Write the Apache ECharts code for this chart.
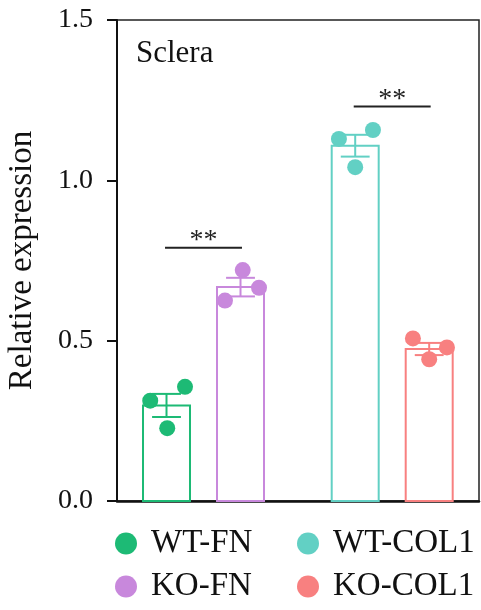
<!DOCTYPE html>
<html lang="en">
<head>
    <meta charset="UTF-8">
    <script src="https://cdn.jsdelivr.net/npm/echarts@6/dist/echarts.min.js"></script>
    <title>Sclera</title>
    <style>
      html, body { margin: 0; padding: 0; background: #fff; }
    </style>
</head>
<body>
    <div id="main" style="width: 481px;height:610px;"></div>
    <script type="text/javascript">
      // groups and their x slots (gap between FN and COL1 pairs)
      var groups = ['WT-FN', 'KO-FN', 'WT-COL1', 'KO-COL1'];
      var xPos = [1, 2, 3.55, 4.55];
      var colors = ['#1dba75', '#c888dc', '#62d0c4', '#f88080'];

      var means = [0.298, 0.667, 1.108, 0.474];
      var sems = [0.036, 0.029, 0.034, 0.019];

      // individual replicates + their horizontal jitter
      var points = [
        [0.313, 0.356, 0.227],
        [0.625, 0.720, 0.665],
        [1.129, 1.157, 1.041],
        [0.507, 0.479, 0.442]
      ];
      var jitter = [
        [-0.22, 0.25, 0.01],
        [-0.21, 0.03, 0.25],
        [-0.22, 0.24, 0],
        [-0.22, 0.24, 0]
      ];

      // significance brackets: [first group, second group, height]
      var sigPairs = [[0, 1], [2, 3]];
      var sigY = [0.79, 1.23];
      var sigText = ['**', '**'];

      var yTicks = [0, 0.5, 1.0, 1.5];

      var font = '"Liberation Serif", "DejaVu Serif", serif';

      var myChart = echarts.init(document.getElementById('main'));

      function renderBar(params, api) {
        var x = api.value(0), m = api.value(1), s = api.value(2);
        var base = api.coord([x, 0]);
        var top = api.coord([x, m]);
        var w = api.size([0.635, 0])[0];
        var cw = api.size([0.39, 0])[0];
        var hi = api.coord([x, m + s])[1];
        var lo = api.coord([x, m - s])[1];
        var col = api.visual('color');
        var ls = { stroke: col, lineWidth: 2 };
        return {
          type: 'group',
          children: [
            { type: 'rect', shape: { x: base[0] - w / 2, y: top[1], width: w, height: base[1] - top[1] },
              style: { fill: '#fff', stroke: col, lineWidth: 2 } },
            { type: 'line', shape: { x1: top[0], y1: hi, x2: top[0], y2: lo }, style: ls },
            { type: 'line', shape: { x1: top[0] - cw / 2, y1: hi, x2: top[0] + cw / 2, y2: hi }, style: ls },
            { type: 'line', shape: { x1: top[0] - cw / 2, y1: lo, x2: top[0] + cw / 2, y2: lo }, style: ls }
          ]
        };
      }

      function renderSig(params, api) {
        var p1 = api.coord([api.value(0), api.value(2)]);
        var p2 = api.coord([api.value(1), api.value(2)]);
        return {
          type: 'group',
          children: [
            { type: 'line', shape: { x1: p1[0], y1: p1[1], x2: p2[0], y2: p1[1] },
              style: { stroke: '#222', lineWidth: 2 } },
            { type: 'text', x: (p1[0] + p2[0]) / 2, y: p1[1] + 7,
              style: { text: sigText[params.dataIndex], fill: '#222', font: '28px ' + font,
                       align: 'center', verticalAlign: 'bottom' } }
          ]
        };
      }

      var series = [];
      groups.forEach(function (g, i) {
        series.push({
          name: g,
          type: 'custom',
          renderItem: renderBar,
          itemStyle: { color: colors[i] },
          encode: { x: 0, y: 1 },
          data: [[xPos[i], means[i], sems[i]]],
          z: 2
        });
        series.push({
          name: g,
          type: 'scatter',
          symbol: 'circle',
          symbolSize: 16,
          itemStyle: { color: colors[i], opacity: 1 },
          data: points[i].map(function (v, k) { return [xPos[i] + jitter[i][k], v]; }),
          z: 4
        });
      });
      series.push({
        type: 'custom',
        renderItem: renderSig,
        encode: { x: [0, 1], y: 2 },
        data: sigPairs.map(function (p, k) { return [xPos[p[0]] - 0.02, xPos[p[1]] + 0.02, sigY[k]]; }),
        z: 5
      });

      var legendText = { fontFamily: font, fontSize: 33, color: '#111' };

      function legendItems(list) {
        return list.map(function (g) {
          return { name: g, icon: 'circle', itemStyle: { color: colors[groups.indexOf(g)] } };
        });
      }

      var option = {
        animation: false,
        title: {
          text: 'Sclera',
          left: 131,
          top: 33,
          textStyle: { fontFamily: font, fontSize: 31, fontWeight: 'normal', color: '#111' }
        },
        legend: [
          {
            data: legendItems([groups[0], groups[1]]),
            orient: 'vertical',
            left: 110,
            top: 522,
            height: 200,
            itemWidth: 40,
            itemHeight: 22,
            itemGap: 10,
            textStyle: legendText
          },
          {
            data: legendItems([groups[2], groups[3]]),
            orient: 'vertical',
            left: 292,
            top: 522,
            height: 200,
            itemWidth: 40,
            itemHeight: 22,
            itemGap: 10,
            textStyle: legendText
          }
        ],
        grid: {
          left: 117,
          right: 2,
          top: 20,
          bottom: 109,
          outerBoundsMode: 'none',
          show: true,
          borderColor: '#222',
          borderWidth: 1.5,
          backgroundColor: 'transparent'
        },
        xAxis: {
          type: 'value',
          min: 0.331,
          max: 5.223,
          axisLine: { show: true, onZero: false, lineStyle: { color: '#111', width: 2.5 } },
          axisTick: { show: false },
          axisLabel: { show: false },
          splitLine: { show: false }
        },
        yAxis: {
          type: 'value',
          min: yTicks[0],
          max: yTicks[yTicks.length - 1],
          interval: 0.5,
          name: 'Relative expression',
          nameLocation: 'middle',
          nameGap: 78,
          nameTextStyle: { fontFamily: font, fontSize: 33, color: '#111' },
          axisLine: { show: true, lineStyle: { color: '#111', width: 2 } },
          axisTick: { show: true, inside: false, length: 10, lineStyle: { color: '#111', width: 2 } },
          axisLabel: {
            margin: 24,
            fontFamily: font,
            fontSize: 28,
            color: '#111',
            formatter: function (v) { return v.toFixed(1); }
          },
          splitLine: { show: false }
        },
        series: series
      };

      myChart.setOption(option);
    </script>
</body>
</html>
